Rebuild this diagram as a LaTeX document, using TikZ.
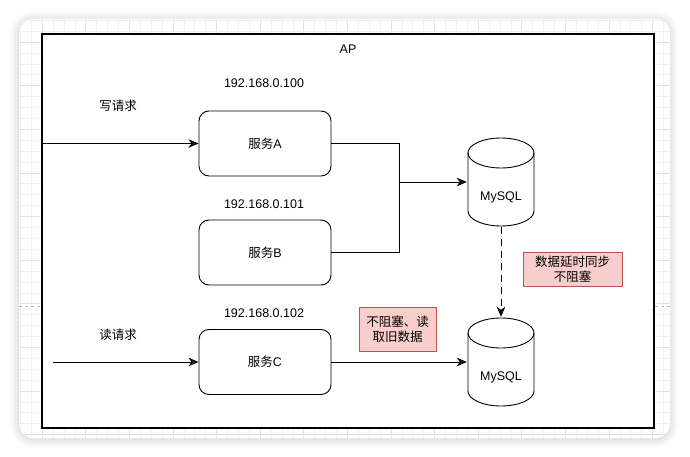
\documentclass[tikz,border=0pt]{standalone}
\usepackage{fontspec}
\setmainfont{Liberation Sans}
\newfontfamily\cjk{Noto Sans CJK SC}
\newcommand{\zh}[1]{{\cjk #1}}
\usepackage{tikz}
\usetikzlibrary{arrows.meta,shadows.blur}
\definecolor{notefill}{HTML}{F8CECC}
\definecolor{noteline}{HTML}{B85450}
\definecolor{gridminor}{HTML}{F1F1F1}
\definecolor{gridmajor}{HTML}{E2E2E2}

\begin{document}
\begin{tikzpicture}[
    x=1pt, y=-1pt,
    font=\fontsize{12.5}{15}\selectfont,
    card/.style={fill=white, rounded corners=14pt, blur shadow={shadow xshift=0pt, shadow yshift=-1pt, shadow blur radius=9pt, shadow opacity=22}},
    apbox/.style={draw, fill=white, line width=1.3pt, minimum width=612pt, minimum height=394pt, inner sep=0pt},
    svc/.style={draw, rounded corners=10pt, fill=white, minimum width=132pt, minimum height=65pt, line width=0.9pt},
    db/.style={fill=white, minimum width=68pt, minimum height=90pt, inner sep=0pt,
      label={[yshift=-15pt]center:#1},
      path picture={
        \draw[line width=0.9pt] ([shift={(34,16)}]path picture bounding box.north west) ellipse [x radius=33, y radius=15];
        \draw[line width=0.9pt] ([shift={(1,16)}]path picture bounding box.north west)
          -- ([shift={(1,-16)}]path picture bounding box.south west)
          arc[start angle=180, end angle=0, x radius=33, y radius=15]
          -- ([shift={(-1,16)}]path picture bounding box.north east);
      }},
    note/.style={draw=noteline, fill=notefill, align=center, inner sep=0pt, line width=0.8pt},
    txt/.style={inner sep=1pt},
    arrow/.style={-{Stealth[length=10pt, width=8.5pt, inset=3pt]}, line width=0.9pt}
]
\useasboundingbox (0,0) rectangle (690,457);

% ---- canvas card with grid ----
\path[card] (19,19) rectangle (670,438);
\begin{scope}
  \clip[rounded corners=14pt] (19,19) rectangle (670,438);
  \foreach \i in {0,...,60} {
    \pgfmathtruncatemacro{\m}{mod(\i,4)}
    \ifnum\m=2
      \draw[gridmajor, line width=0.6pt] ({20.3+10.9*\i},19) -- ({20.3+10.9*\i},438);
    \else
      \draw[gridminor, line width=0.6pt] ({20.3+10.9*\i},19) -- ({20.3+10.9*\i},438);
    \fi
  }
  \foreach \i in {0,...,39} {
    \pgfmathtruncatemacro{\m}{mod(\i,4)}
    \ifnum\m=2
      \draw[gridmajor, line width=0.6pt] (19,{20.3+10.9*\i}) -- (670,{20.3+10.9*\i});
    \else
      \draw[gridminor, line width=0.6pt] (19,{20.3+10.9*\i}) -- (670,{20.3+10.9*\i});
    \fi
  }
  \draw[gray!55, dashed, line width=0.6pt] (19,306) -- (670,306);
\end{scope}

% ---- AP frame ----
\node[apbox] (ap) at (348,231) {};
\node[txt] (aptitle) at (348,49) {AP};

% ---- services ----
\node[txt] (ipA) at (264,83) {192.168.0.100};
\node[svc] (svcA) at (265,143.5) {\zh{服务}A};
\node[txt] (ipB) at (264,204) {192.168.0.101};
\node[svc] (svcB) at (265,252.5) {\zh{服务}B};
\node[txt] (ipC) at (264,313) {192.168.0.102};
\node[svc] (svcC) at (265,362) {\zh{服务}C};

% ---- requests ----
\node[txt] (wreq) at (118,106) {\zh{写请求}};
\node[txt] (rreq) at (118,335) {\zh{读请求}};
\coordinate (rdin) at (53,362);

% ---- databases ----
\node[db=MySQL] (db1) at (501,182) {};
\node[db=MySQL] (db2) at (501,362) {};

% ---- notes ----
\node[note, minimum width=99pt, minimum height=34pt] (syncnote) at (572.5,269) {\zh{数据延时同步}\\\zh{不阻塞}};
\node[note, minimum width=77pt, minimum height=44pt] (readnote) at (397.5,329) {\zh{不阻塞、读}\\\zh{取旧数据}};

% ---- connections ----
\coordinate (merge) at (399,182);
\draw[arrow] (ap.west |- svcA.west) -- (svcA.west);
\draw[arrow] (rdin) -- (svcC.west);
\draw[arrow] (svcA.east) -| (merge) -- (db1.west);
\draw[line width=0.9pt] (svcB.east) -| (merge);
\draw[arrow] (svcC.east) -- (db2.west);
\draw[arrow, dash pattern=on 7pt off 5pt] (db1.south) -- (db2.north);

\end{tikzpicture}
\end{document}
